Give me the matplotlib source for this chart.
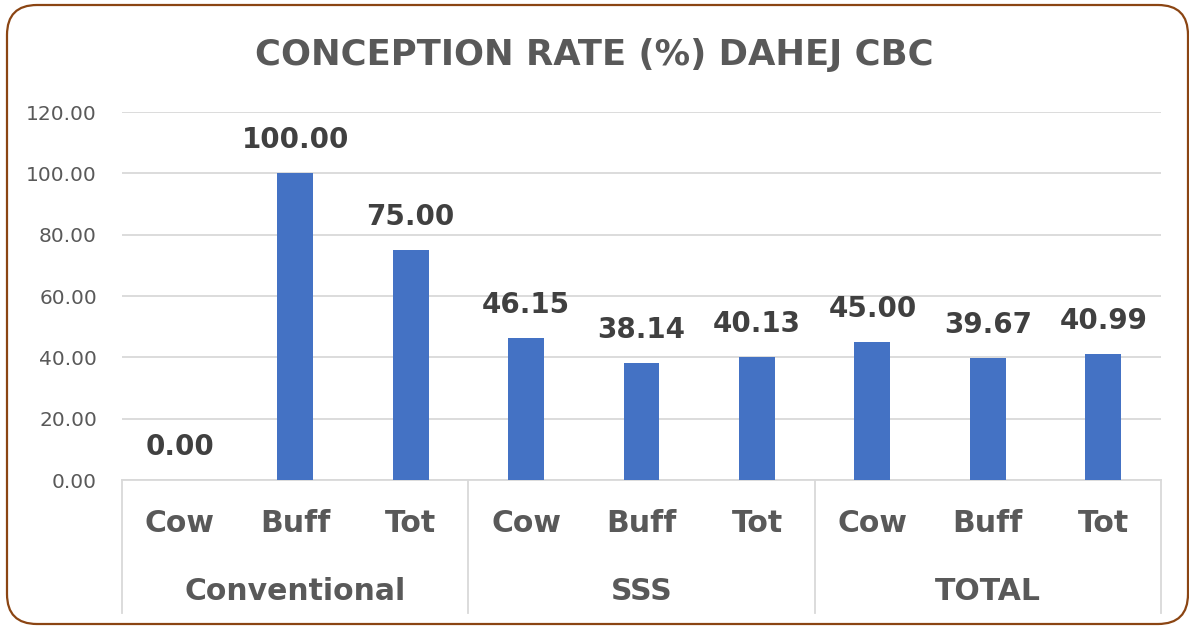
import matplotlib
matplotlib.use("Agg")
import matplotlib.pyplot as plt
from matplotlib.patches import FancyBboxPatch
from matplotlib.lines import Line2D

groups = ["Conventional", "SSS", "TOTAL"]
subcats = ["Cow", "Buff", "Tot"]
values = [0.00, 100.00, 75.00, 46.15, 38.14, 40.13, 45.00, 39.67, 40.99]
yticks = [0, 20, 40, 60, 80, 100, 120]

plt.rcParams['font.family'] = ['DejaVu Sans']
gray = '#595959'

W, H = 1189, 626
fig = plt.figure(figsize=(W/100, H/100), dpi=100)
fig.patch.set_facecolor('white')

# rounded border
border = FancyBboxPatch((7/W, 2/H), (1188-7)/W, (621-2)/H,
                        boxstyle="round,pad=0,rounding_size=%f" % (30/W),
                        transform=fig.transFigure, fill=False,
                        edgecolor='#8B4513', linewidth=1.6,
                        mutation_aspect=W/H)
fig.patches.append(border)

L, R, B, T = 122/W, 1161/W, 1-480/H, 1-112/H
ax = fig.add_axes([L, B, R-L, T-B])
n = len(values)
x = list(range(n))
ax.bar(x, values, width=0.31, color='#4472C4', zorder=3)
ax.set_xlim(-0.5, n-0.5)
ax.set_ylim(0, 120)
ax.set_yticks(yticks)
ax.set_yticklabels([f"{v:.2f}" for v in yticks], fontsize=14.5, color=gray)
ax.tick_params(axis='y', length=0, pad=18)
ax.tick_params(axis='x', length=0, labelbottom=False)
ax.grid(axis='y', color='#D9D9D9', linewidth=1.3, zorder=0)
for s in ['left', 'right', 'top']:
    ax.spines[s].set_visible(False)
ax.spines['bottom'].set_color('#D9D9D9')
ax.spines['bottom'].set_linewidth(1.3)

for xi, v in zip(x, values):
    ax.annotate(f"{v:.2f}", (xi, v), xytext=(0, 24), textcoords='offset points',
                ha='center', va='center', fontsize=20, fontweight='bold', color='#404040')

# category labels
trans = ax.get_xaxis_transform()
for i, xi in enumerate(x):
    ax.text(xi, (480-524)/368, subcats[i % 3], transform=trans, ha='center', va='center',
            fontsize=21.5, fontweight='bold', color=gray)
for g, name in enumerate(groups):
    ax.text(g*3+1, (480-592)/368, name, transform=trans, ha='center', va='center',
            fontsize=21.5, fontweight='bold', color=gray)
# separators
for b in [-0.5, 2.5, 5.5, 8.5]:
    ax.add_line(Line2D([b, b], [0, (480-613)/368], transform=trans, color='#D9D9D9',
                       linewidth=1.3, clip_on=False))

fig.text(0.5, 1-55/H, "CONCEPTION RATE (%) DAHEJ CBC", ha='center', va='center',
         fontsize=25.5, fontweight='bold', color=gray)

fig.savefig("out.png", dpi=100, facecolor='white')
